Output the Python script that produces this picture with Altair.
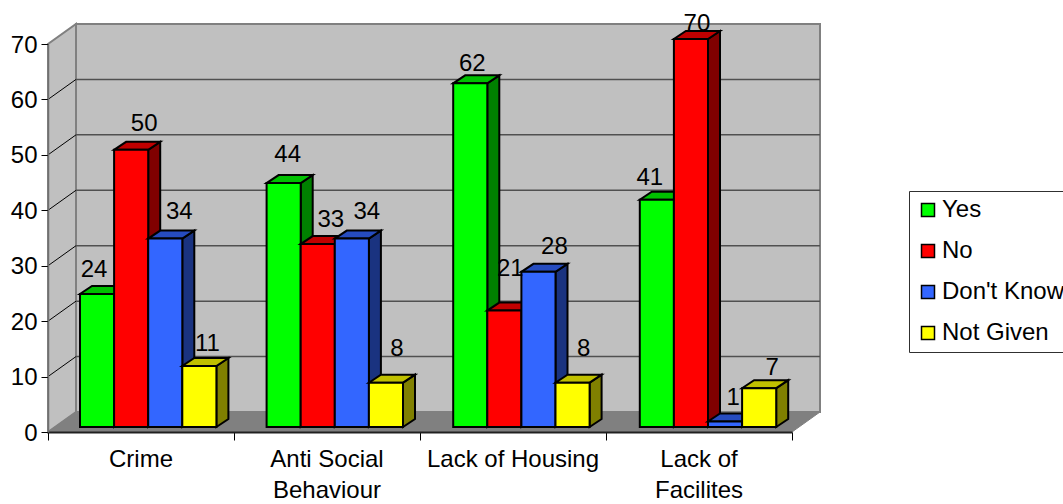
import altair as alt
import pandas as pd

# Survey responses per issue
categories = ["Crime", "Anti Social\nBehaviour", "Lack of Housing", "Lack of\nFacilites"]
series = ["Yes", "No", "Don't Know", "Not Given"]
yes = [24, 44, 62, 41]
no = [50, 33, 21, 70]
dont_know = [34, 34, 28, 1]
not_given = [11, 8, 8, 7]
columns = [yes, no, dont_know, not_given]

front_colors = ["#00FF00", "#FF0000", "#3366FF", "#FFFF00"]
top_colors = ["#00C000", "#C00000", "#264CBF", "#C0C000"]
side_colors = ["#008000", "#800000", "#1A3380", "#808000"]

# Nudges of the value labels from the top centre of each bar, in pixels
label_dx = [[-3, 13, 14, 8], [4, 13, 15, 11], [2, 6, 16, 11], [-7, 6, 8, 13]]
label_dy = [[-24, -26, -27, -22], [-28, -24, -27, -34], [-19, -42, -25, -34], [-22, -15, -23, -20]]

# Plot frame in pixels, used to turn pixel depths into data units
PLOT_W, PLOT_H = 744, 388
X_MAX, Y_MAX = 4, 70
PX_X = PLOT_W / X_MAX
PX_Y = PLOT_H / Y_MAX

wall_dx = 28 / PX_X
wall_dy = 20 / PX_Y
bar_dx = 12 / PX_X
bar_dy = 8 / PX_Y
base_y = 5 / PX_Y
bar_w = 34.1 / PX_X
group_step = 186.6 / PX_X
group_start = 32 / PX_X

x_scale = alt.Scale(domain=[0, X_MAX], nice=False, zero=False)
y_scale = alt.Scale(domain=[0, Y_MAX], nice=False, zero=True)

# Every layer shares one axis definition so that the merged chart keeps them
x_axis = alt.Axis(
    values=list(range(X_MAX + 1)), labels=False, grid=False, tickSize=8, title=None,
    tickColor="#000000", domainColor="#202020", domainWidth=2, tickWidth=1, zindex=1,
)
y_axis = alt.Axis(
    values=list(range(0, Y_MAX + 1, 10)), grid=False, tickSize=7, labelPadding=4, title=None,
    labelFont="Liberation Sans", labelFontSize=24, labelColor="#000000", labelOffset=1,
    tickColor="#000000", domainColor="#707070", domainWidth=1.5, tickWidth=1, zindex=1,
)
x_enc = alt.X("x:Q", scale=x_scale, axis=x_axis)
y_enc = alt.Y("y:Q", scale=y_scale, axis=y_axis)


def area_rows(key, points):
    return [{"key": key, "x": a, "y": b, "y2": c} for a, b, c in points]


def parallelogram_layer(rows, color, stroke, width=2):
    return (
        alt.Chart(pd.DataFrame(rows))
        .mark_area(color=color, fill=color, stroke=stroke, strokeWidth=width, opacity=1)
        .encode(x=x_enc, y=y_enc, y2="y2:Q", detail="key:N")
    )


back_wall = (
    alt.Chart(pd.DataFrame([{"x": wall_dx, "x2": X_MAX + wall_dx, "y": wall_dy, "y2": Y_MAX + wall_dy}]))
    .mark_rect(fill="#C0C0C0", stroke="#808080", strokeWidth=2)
    .encode(x=x_enc, x2="x2:Q", y=y_enc, y2="y2:Q")
)

side_wall = parallelogram_layer(
    area_rows("side", [(0, 0, Y_MAX), (wall_dx, wall_dy, Y_MAX + wall_dy)]), "#C0C0C0", "#808080"
)
floor = parallelogram_layer(
    area_rows(
        "floor",
        [(0, 0, 0), (wall_dx, 0, wall_dy), (X_MAX, 0, wall_dy), (X_MAX + wall_dx, wall_dy, wall_dy)],
    ),
    "#808080",
    "#808080",
    1,
)

grid_values = list(range(10, Y_MAX, 10))
back_grid = (
    alt.Chart(pd.DataFrame({"y": [v + wall_dy for v in grid_values], "x": wall_dx, "x2": X_MAX + wall_dx}))
    .mark_rule(color="#505050", strokeWidth=1.5)
    .encode(x=x_enc, x2="x2:Q", y=y_enc)
)
side_grid_rows = []
for v in grid_values:
    side_grid_rows += [{"v": v, "x": 0, "y": v}, {"v": v, "x": wall_dx, "y": v + wall_dy}]
side_grid = (
    alt.Chart(pd.DataFrame(side_grid_rows))
    .mark_line(color="#000000", strokeWidth=1)
    .encode(x=x_enc, y=y_enc, detail="v:N")
)

layers = [back_wall, side_wall, floor, back_grid, side_grid]

# Bars, painted left to right so later fronts cover earlier side faces
label_rows = []
for s, name in enumerate(series):
    fronts, sides, tops = [], [], []
    for g, values in enumerate(zip(*columns)):
        v = values[s]
        x0 = g * group_step + group_start + s * bar_w
        x1 = x0 + bar_w
        top = v + base_y
        fronts.append({"series": name, "x": x0, "x2": x1, "y": base_y, "y2": top})
        sides += area_rows(g, [(x1, base_y, top), (x1 + bar_dx, base_y + bar_dy, top + bar_dy)])
        tops += area_rows(
            g,
            [
                (x0, top, top),
                (x0 + bar_dx, top, top + bar_dy),
                (x1, top, top + bar_dy),
                (x1 + bar_dx, top + bar_dy, top + bar_dy),
            ],
        )
        label_rows.append(
            {
                "value": v,
                "x": (x0 + x1) / 2 + label_dx[g][s] / PX_X,
                "y": top - label_dy[g][s] / PX_Y,
            }
        )
    layers.append(parallelogram_layer(sides, side_colors[s], "#000000"))
    layers.append(parallelogram_layer(tops, top_colors[s], "#000000"))
    layers.append(
        alt.Chart(pd.DataFrame(fronts))
        .mark_rect(stroke="#000000", strokeWidth=2)
        .encode(
            x=x_enc,
            x2="x2:Q",
            y=y_enc,
            y2="y2:Q",
            fill=alt.Fill(
                "series:N",
                scale=alt.Scale(domain=series, range=front_colors),
                legend=alt.Legend(
                    title=None,
                    orient="none",
                    legendX=861,
                    legendY=147,
                    padding=7,
                    fillColor="#FFFFFF",
                    strokeColor="#303030",
                    symbolType="square",
                    symbolSize=169,
                    symbolStrokeColor="#000000",
                    symbolStrokeWidth=1.5,
                    labelFont="Liberation Sans",
                    labelFontSize=24,
                    labelColor="#000000",
                    labelOffset=2,
                    rowPadding=17,
                    labelLimit=300,
                    values=series,
                ),
            ),
        )
    )

value_labels = (
    alt.Chart(pd.DataFrame(label_rows))
    .mark_text(font="Liberation Sans", fontSize=24, color="#000000", baseline="middle")
    .encode(x=x_enc, y=y_enc, text="value:Q")
)
layers.append(value_labels)

category_labels = (
    alt.Chart(pd.DataFrame({"label": categories, "x": [i + 0.5 for i in range(len(categories))]}))
    .mark_text(font="Liberation Sans", fontSize=24, color="#000000", baseline="top", lineBreak="\n", lineHeight=31)
    .encode(x=x_enc, y=alt.value(404), text="label:N")
)
layers.append(category_labels)

chart = (
    alt.layer(*layers)
    .resolve_scale(fill="shared")
    .properties(
        width=PLOT_W,
        height=PLOT_H,
        padding={"left": 48, "top": 44, "right": 271, "bottom": 72},
        autosize="none",
        background="#FFFFFF",
    )
    .configure_view(stroke=None)
)

chart.save("out.html", embed_options={"renderer": "svg", "actions": False})
